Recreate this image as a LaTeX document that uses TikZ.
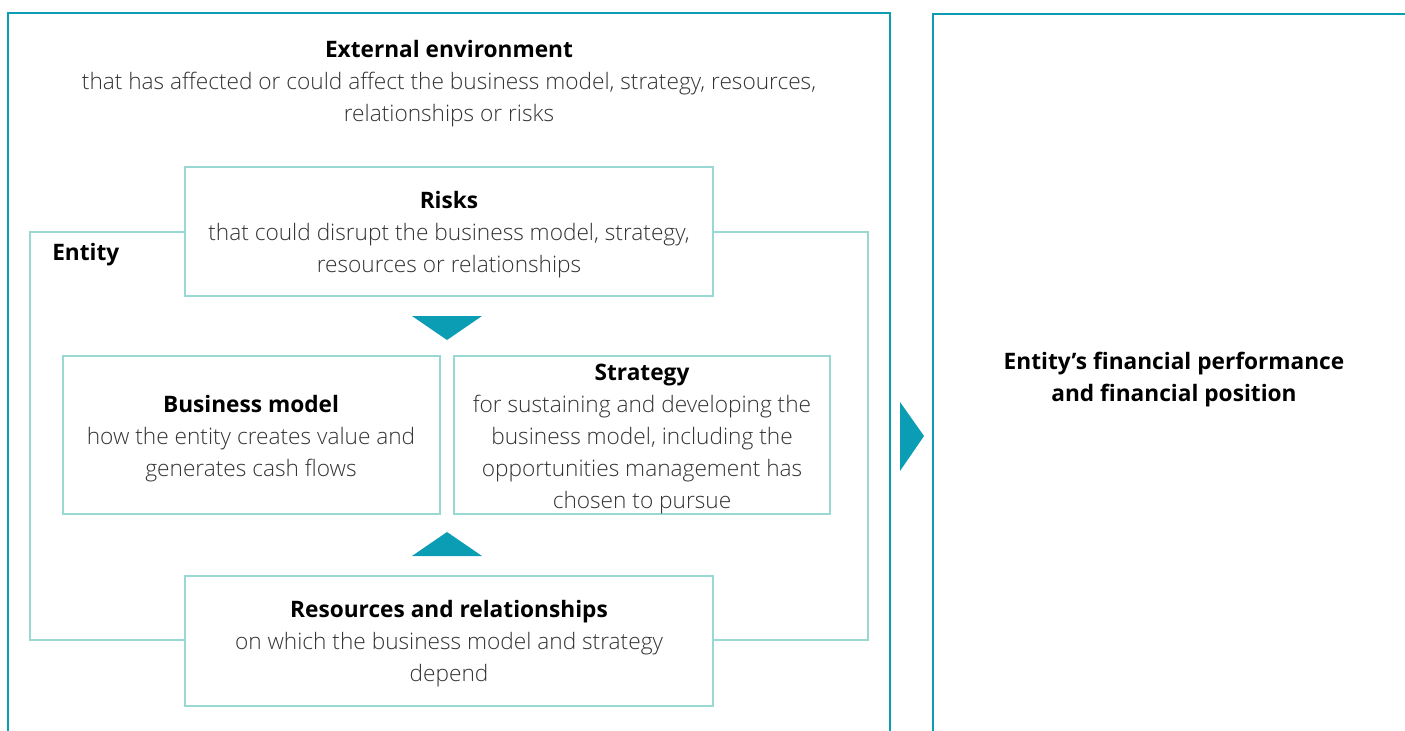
\documentclass[tikz,border=0pt]{standalone}
\usepackage{fontspec}
\setmainfont{Open Sans Light}[BoldFont={Open Sans Bold}]
\begin{document}
\begin{tikzpicture}[x=0.75pt,y=-0.75pt,
  dark/.style={draw=teal1,line width=1.2pt},
  light/.style={draw=teal2,line width=1pt},
  box/.style={light,fill=white},
  txt/.style={text=txtc,font=\fontsize{17}{24}\selectfont,align=center,inner sep=0pt},
  tri/.style={fill=teal1,draw=none}]
\definecolor{teal1}{HTML}{0B9DB3}
\definecolor{teal2}{HTML}{9AD8D4}
\definecolor{txtc}{HTML}{333333}
\newcommand{\hd}[1]{\textcolor{black}{\textbf{#1}}}
\useasboundingbox (0,0) rectangle (1405,731);
\clip (0,0) rectangle (1405,731);
% outer frames
\draw[dark] (8,760) -- (8,13) -- (890,13) -- (890,760);
\draw[dark] (933,760) -- (933,14) -- (1430,14);
% entity frame
\draw[light] (30,232) rectangle (868,640);
% boxes
\draw[box] (185,167) rectangle (713,296);
\draw[box] (63,356) rectangle (440,514);
\draw[box] (454,356) rectangle (830,514);
\draw[box] (185,576) rectangle (713,706);
% triangles
\fill[tri] (412,316) -- (482,316) -- (447,340) -- cycle;
\fill[tri] (412,556) -- (482,556) -- (447,532) -- cycle;
\fill[tri] (900,402) -- (924,436) -- (900,471) -- cycle;
% texts
\node[txt] (ext) at (449,84) {\hd{External environment}\\that has affected or could affect the business model, strategy, resources,\\relationships or risks};
\node[txt,anchor=west] (ent) at (52,255) {\hd{Entity}};
\node[txt] (risk) at (449,235) {\hd{Risks}\\that could disrupt the business model, strategy,\\resources or relationships};
\node[txt] (bm) at (251,439) {\hd{Business model}\\how the entity creates value and\\generates cash flows};
\node[txt] (str) at (642,439) {\hd{Strategy}\\for sustaining and developing the\\business model, including the\\opportunities management has\\chosen to pursue};
\node[txt] (res) at (449,644) {\hd{Resources and relationships}\\on which the business model and strategy\\depend};
\node[txt] (fin) at (1174,380) {\hd{Entity’s financial performance}\\\hd{and financial position}};
\end{tikzpicture}
\end{document}
